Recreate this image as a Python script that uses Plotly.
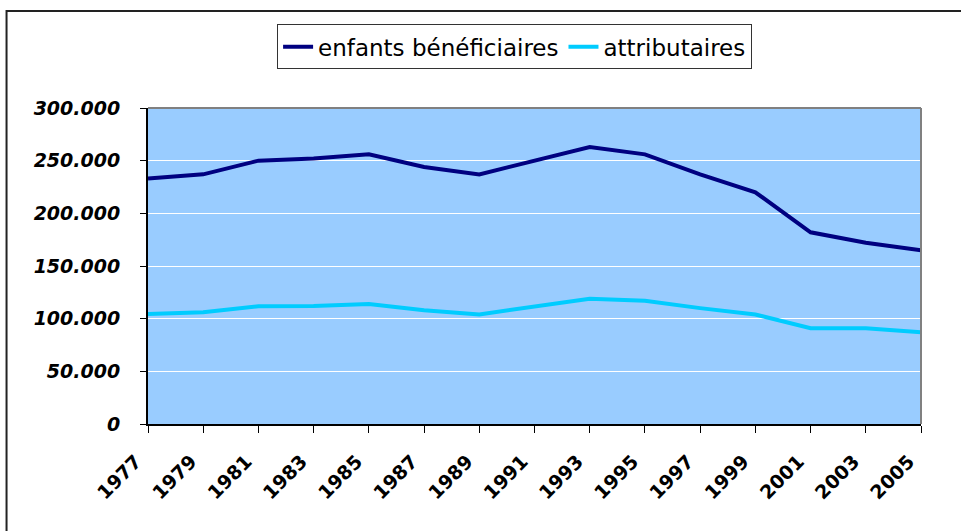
import plotly.graph_objects as go

years = ["1977", "1979", "1981", "1983", "1985", "1987", "1989", "1991",
         "1993", "1995", "1997", "1999", "2001", "2003", "2005"]
enfants = [233000, 237000, 250000, 252000, 256000, 244000, 237000, 250000,
           263000, 256000, 237000, 220000, 182000, 172000, 165000]
attributaires = [104500, 106000, 111700, 112000, 114000, 108000, 104000, 111500,
                 119000, 117000, 110000, 104000, 91000, 91000, 87000]
y_ticks = [0, 50000, 100000, 150000, 200000, 250000, 300000]

fig = go.Figure()
fig.add_trace(go.Scatter(x=years, y=enfants, mode="lines", name="enfants bénéficiaires",
                         line=dict(color="#000080", width=4)))
fig.add_trace(go.Scatter(x=years, y=attributaires, mode="lines", name="attributaires",
                         line=dict(color="#00CCFF", width=4)))

fig.update_layout(
    width=961, height=531,
    margin=dict(l=148, r=40, t=108, b=107),
    paper_bgcolor="white", plot_bgcolor="#99CCFF",
    separators=",.",
    showlegend=True,
    legend=dict(orientation="h", x=0.167, y=1.265, xanchor="left", yanchor="top",
                bordercolor="#333333", borderwidth=1, bgcolor="white",
                font=dict(family="DejaVu Sans", size=23, color="black"),
                itemwidth=30, tracegroupgap=0),
    xaxis=dict(type="category", range=[0, len(years) - 1], showgrid=False,
               showline=True, linecolor="black", linewidth=2,
               ticks="outside", ticklen=7, tickcolor="black", tickwidth=1,
               tickangle=-45, ticklabelshift=-12, ticklabelstandoff=10,
               tickfont=dict(family="DejaVu Sans", size=19, color="black", weight="bold")),
    yaxis=dict(range=[0, 300000], tickvals=y_ticks, tickformat=",d",
               showgrid=True, gridcolor="white", gridwidth=1,
               showline=True, linecolor="black", linewidth=2, zeroline=False,
               ticks="outside", ticklen=6, tickcolor="black", tickwidth=1,
               ticklabelstandoff=16,
               tickfont=dict(family="DejaVu Sans", size=19, color="black",
                             weight="bold", style="italic")),
    shapes=[
        dict(type="line", xref="paper", yref="paper", x0=0, x1=1, y0=1, y1=1,
             line=dict(color="#808080", width=2), layer="above"),
        dict(type="line", xref="paper", yref="paper", x0=1, x1=1, y0=0, y1=1,
             line=dict(color="#808080", width=2), layer="above"),
        dict(type="rect", xref="paper", yref="paper", x0=-0.183, x1=1.06, y0=-0.36, y1=1.307,
             line=dict(color="#222222", width=2), fillcolor="rgba(0,0,0,0)", layer="below"),
    ],
)

fig.write_html("out.html", config={"displayModeBar": False},
               post_script="document.body.style.margin='0';")
